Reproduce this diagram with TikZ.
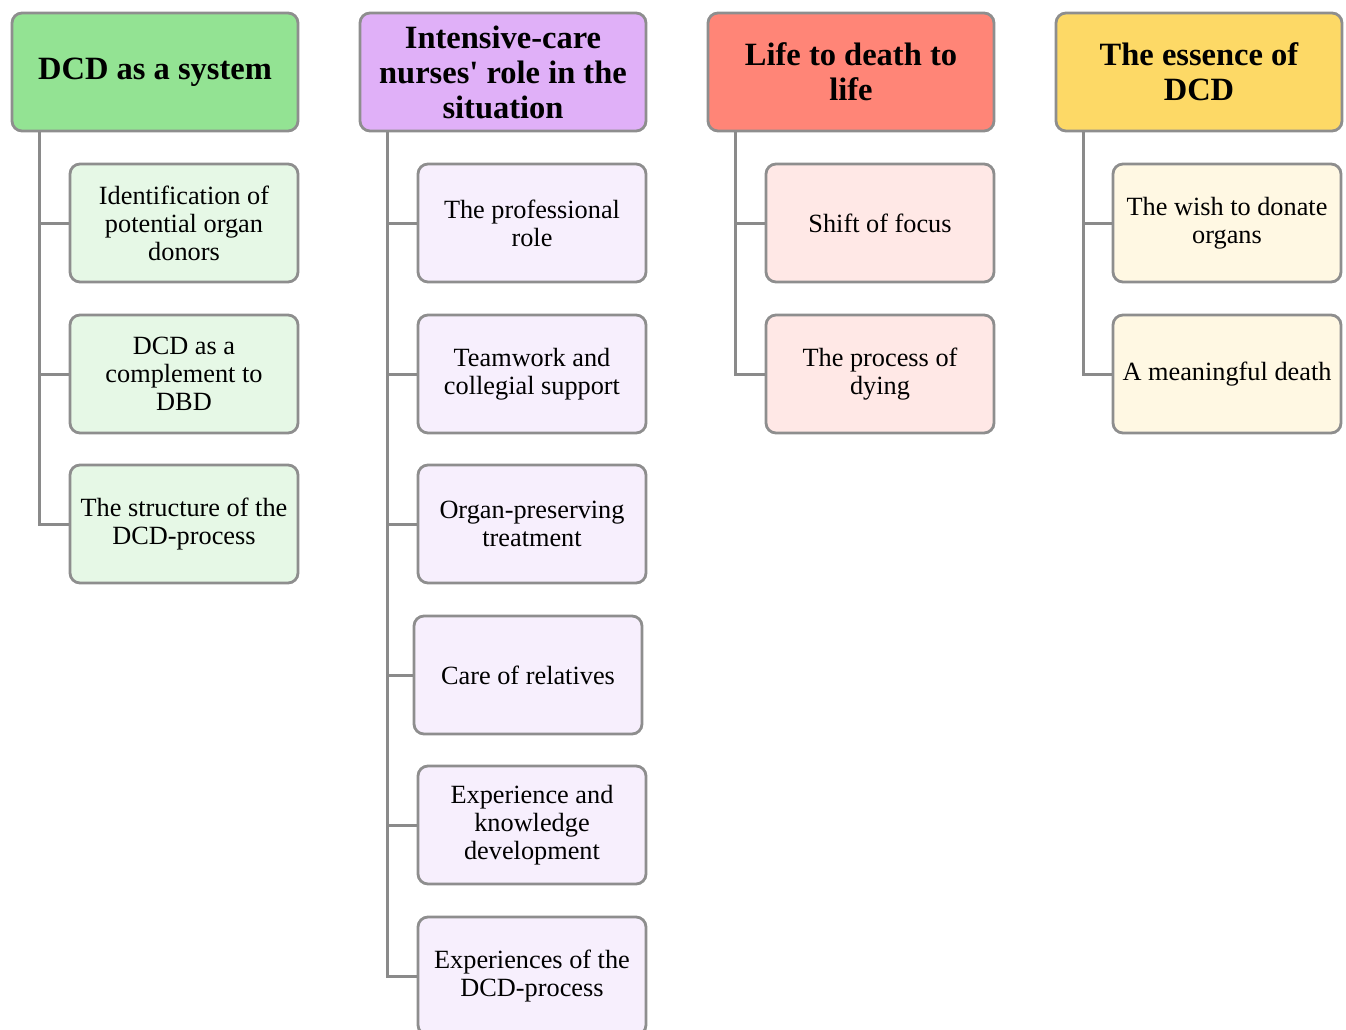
\documentclass[tikz,border=0pt]{standalone}
\usepackage{fontspec}
\setmainfont{Liberation Serif}
\definecolor{boxgray}{HTML}{8E8E8E}
\definecolor{linegray}{HTML}{8A8A8A}
\definecolor{hgreen}{HTML}{93E393}
\definecolor{hpurple}{HTML}{E0B0F8}
\definecolor{hred}{HTML}{FF8577}
\definecolor{hyellow}{HTML}{FDD966}
\definecolor{sgreen}{HTML}{E6F8E6}
\definecolor{spurple}{HTML}{F7EFFD}
\definecolor{sred}{HTML}{FFE8E6}
\definecolor{syellow}{HTML}{FFF8E3}
\begin{document}
\begin{tikzpicture}[x=1pt,y=-1pt,
  head/.style={draw=boxgray, line width=2.8pt, rounded corners=10pt,
    minimum width=286pt, minimum height=118pt, align=center,
    font=\fontsize{32.5}{35}\selectfont\bfseries, inner sep=0pt},
  sub/.style={draw=boxgray, line width=2.8pt, rounded corners=10pt,
    minimum width=228pt, minimum height=118pt, align=center,
    font=\fontsize{26.3}{28}\selectfont, inner sep=0pt},
  conn/.style={draw=linegray, line width=3pt}]
\useasboundingbox (0,0) rectangle (1346,1030);
\fill[white] (0,0) rectangle (1346,1030);

% headers
\node[head, fill=hgreen]  (h1) at (155,72) {DCD as a system};
\node[head, fill=hpurple] (h2) at (503,72) {Intensive-care\\nurses\textquotesingle{} role in the\\situation};
\node[head, fill=hred]    (h3) at (851,72) {Life to death to\\life};
\node[head, fill=hyellow] (h4) at (1199,72) {The essence of\\DCD};

% column 1
\node[sub, fill=sgreen] (c11) at (184,223) {Identification of\\potential organ\\donors};
\node[sub, fill=sgreen] (c12) at (184,374) {DCD as a\\complement to\\DBD};
\node[sub, fill=sgreen] (c13) at (184,524) {The structure of the\\DCD-process};

% column 2
\node[sub, fill=spurple] (c21) at (532,223) {The professional\\role};
\node[sub, fill=spurple] (c22) at (532,374) {Teamwork and\\collegial support};
\node[sub, fill=spurple] (c23) at (532,524) {Organ-preserving\\treatment};
\node[sub, fill=spurple] (c24) at (528,675) {Care of relatives};
\node[sub, fill=spurple] (c25) at (532,825) {Experience and\\knowledge\\development};
\node[sub, fill=spurple] (c26) at (532,976) {Experiences of the\\DCD-process};

% column 3
\node[sub, fill=sred] (c31) at (880,223) {Shift of focus};
\node[sub, fill=sred] (c32) at (880,374) {The process of\\dying};

% column 4
\node[sub, fill=syellow] (c41) at (1227,223) {The wish to donate\\organs};
\node[sub, fill=syellow] (c42) at (1227,374) {A meaningful death};

% connectors
\foreach \c in {c11,c12,c13}
  \draw[conn] ([xshift=29pt]h1.south west) |- (\c.west);
\foreach \c in {c21,c22,c23,c24,c25,c26}
  \draw[conn] ([xshift=29pt]h2.south west) |- (\c.west);
\foreach \c in {c31,c32}
  \draw[conn] ([xshift=29pt]h3.south west) |- (\c.west);
\foreach \c in {c41,c42}
  \draw[conn] ([xshift=29pt]h4.south west) |- (\c.west);
\end{tikzpicture}
\end{document}
